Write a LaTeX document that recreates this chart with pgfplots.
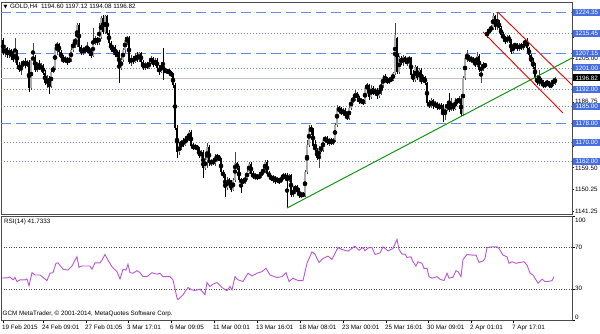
\documentclass[border=0pt]{standalone}
\usepackage{fontspec}
\setmainfont{Liberation Sans}
\newfontfamily\dejavu{DejaVu Sans}
\usepackage{pgfplots}
\usepackage{pgfplotstable}
\pgfplotsset{compat=1.18}
\definecolor{lvl}{RGB}{100,140,230}
\definecolor{lblbox}{RGB}{70,110,225}
\definecolor{bullbody}{RGB}{172,172,172}
\definecolor{bullwick}{RGB}{70,70,70}
\definecolor{trendgreen}{RGB}{20,150,20}
\definecolor{chanred}{RGB}{235,0,0}
\definecolor{rsicol}{RGB}{185,85,215}
\definecolor{curline}{RGB}{195,195,195}
\newcommand\mtfont{\fontsize{6.3}{7.5}\selectfont}

\pgfplotstableread{
x o h l c
3 1212.7 1213.5 1206.4 1207.2
5 1207.2 1210.6 1205.6 1209.3
7 1209.3 1209.7 1205.1 1206.4
9 1206.4 1209.3 1205.1 1208.5
11 1208.5 1208.9 1204.3 1206.4
13 1206.4 1208.5 1203.5 1204.3
15 1204.3 1213.5 1203.1 1207.7
17 1207.7 1208.5 1201.8 1202.2
19 1202.2 1203.5 1199.3 1200.1
21 1200.1 1203.5 1198.0 1202.6
23 1202.6 1204.3 1201.4 1203.5
25 1203.5 1205.1 1201.0 1202.2
27 1202.2 1204.3 1201.4 1203.5
29 1203.5 1204.3 1191.0 1192.6
31 1192.6 1205.1 1191.8 1204.3
33 1204.3 1211.4 1203.5 1205.6
35 1205.6 1206.4 1199.3 1200.1
37 1200.1 1203.5 1199.3 1201.8
39 1201.8 1204.3 1200.1 1201.0
41 1201.0 1203.1 1199.3 1201.8
43 1201.8 1202.6 1198.0 1198.9
45 1198.9 1200.1 1193.9 1194.7
47 1194.7 1198.0 1192.6 1196.8
49 1196.8 1197.6 1190.1 1193.5
51 1193.5 1200.1 1192.6 1199.3
53 1199.3 1201.8 1198.9 1201.0
55 1201.0 1210.6 1200.1 1209.7
57 1209.7 1211.8 1206.4 1211.0
59 1211.0 1211.4 1206.8 1207.7
61 1207.7 1208.5 1204.3 1205.1
63 1205.1 1206.4 1203.1 1203.5
65 1203.5 1206.0 1203.1 1205.1
67 1205.1 1205.6 1202.2 1203.5
69 1203.5 1205.6 1203.1 1204.7
71 1204.7 1209.3 1203.5 1208.5
73 1208.5 1212.7 1207.7 1211.8
75 1211.8 1213.5 1209.3 1212.7
77 1212.7 1219.8 1209.7 1218.9
79 1218.9 1219.8 1208.9 1209.7
81 1209.7 1210.6 1206.4 1207.2
83 1207.2 1209.7 1206.4 1208.9
85 1208.9 1210.2 1207.2 1208.1
87 1208.1 1211.8 1207.2 1209.3
89 1209.3 1209.7 1206.0 1207.7
91 1207.7 1209.3 1205.1 1206.0
93 1206.0 1217.7 1205.6 1211.8
95 1211.8 1214.3 1210.6 1213.5
97 1213.5 1213.9 1210.6 1211.4
99 1211.4 1219.8 1210.6 1213.9
101 1213.9 1222.7 1213.1 1221.8
103 1221.8 1223.1 1215.2 1216.0
105 1216.0 1223.1 1215.2 1222.7
107 1222.7 1223.1 1214.7 1215.6
109 1215.6 1216.8 1210.6 1211.4
111 1211.4 1212.2 1207.7 1208.5
113 1208.5 1210.6 1206.4 1209.7
115 1209.7 1210.6 1205.6 1206.4
117 1206.4 1208.5 1204.3 1207.7
119 1207.7 1208.5 1194.7 1201.0
121 1201.0 1205.6 1200.1 1204.3
123 1204.3 1209.3 1203.5 1208.5
125 1208.5 1213.9 1207.2 1212.7
127 1212.7 1214.3 1210.6 1213.5
129 1213.5 1214.3 1202.6 1203.5
131 1203.5 1206.4 1201.8 1205.1
133 1205.1 1206.0 1202.6 1203.5
135 1203.5 1207.2 1203.1 1206.0
137 1206.0 1207.7 1203.5 1204.3
139 1204.3 1207.7 1203.5 1207.2
141 1207.2 1207.7 1202.6 1203.5
143 1203.5 1204.3 1200.1 1201.0
145 1201.0 1203.5 1200.1 1202.6
147 1202.6 1203.5 1200.6 1201.0
149 1201.0 1204.3 1200.6 1203.5
151 1203.5 1206.0 1202.6 1205.1
153 1205.1 1205.6 1201.4 1202.2
155 1202.2 1205.1 1201.8 1204.3
157 1204.3 1205.1 1200.6 1201.0
159 1201.0 1202.2 1198.0 1199.3
161 1199.3 1203.5 1198.9 1202.2
163 1202.2 1209.3 1196.0 1200.1
165 1200.1 1201.0 1198.9 1199.3
167 1199.3 1200.6 1198.5 1200.1
169 1200.1 1200.6 1198.0 1198.9
171 1198.9 1199.7 1197.2 1198.0
173 1198.0 1198.9 1192.6 1193.9
175 1193.9 1194.7 1175.1 1175.9
177 1175.9 1177.2 1163.4 1165.9
179 1165.9 1169.7 1164.7 1168.4
181 1168.4 1170.9 1166.7 1170.5
183 1170.5 1171.8 1168.0 1168.8
185 1168.8 1172.6 1168.4 1171.8
187 1171.8 1173.4 1170.1 1170.9
189 1170.9 1175.1 1170.5 1174.3
191 1174.3 1175.1 1167.6 1168.4
193 1168.4 1169.7 1166.7 1167.6
195 1167.6 1169.2 1166.7 1168.4
197 1168.4 1168.8 1166.3 1167.2
199 1167.2 1168.0 1163.4 1164.2
201 1164.2 1166.7 1163.4 1165.9
203 1165.9 1166.7 1155.0 1159.2
205 1159.2 1163.8 1158.4 1162.6
207 1162.6 1169.7 1159.2 1168.0
209 1168.0 1168.8 1160.1 1161.3
211 1161.3 1163.0 1160.1 1162.1
213 1162.1 1163.0 1160.5 1161.3
215 1161.3 1165.1 1160.1 1164.2
217 1164.2 1165.1 1162.6 1163.4
219 1163.4 1164.7 1162.1 1162.6
221 1162.6 1163.4 1156.7 1157.6
223 1157.6 1158.4 1155.0 1155.9
225 1155.9 1156.7 1147.1 1150.9
227 1150.9 1155.5 1150.0 1154.2
229 1154.2 1155.0 1151.7 1153.0
231 1153.0 1154.2 1149.2 1150.0
233 1150.0 1155.0 1149.6 1154.2
235 1154.2 1165.9 1153.4 1161.3
237 1161.3 1161.7 1158.4 1159.2
239 1159.2 1160.1 1153.4 1154.2
241 1154.2 1155.0 1148.8 1153.4
243 1153.4 1154.6 1152.5 1153.8
245 1153.8 1155.9 1152.5 1155.0
247 1155.0 1158.4 1154.2 1157.6
249 1157.6 1161.7 1156.7 1160.9
251 1160.9 1161.7 1155.9 1156.7
253 1156.7 1158.0 1154.6 1155.5
255 1155.5 1157.1 1154.2 1156.3
257 1156.3 1156.7 1154.2 1155.0
259 1155.0 1156.7 1154.6 1155.9
261 1155.9 1158.4 1155.0 1157.6
263 1157.6 1159.2 1156.3 1158.4
265 1158.4 1162.6 1157.1 1161.7
267 1161.7 1162.6 1155.9 1156.7
269 1156.7 1158.0 1155.0 1155.9
271 1155.9 1156.3 1153.8 1154.6
273 1154.6 1156.3 1153.0 1155.5
275 1155.5 1155.9 1152.5 1153.8
277 1153.8 1155.5 1153.0 1154.6
279 1154.6 1155.0 1152.5 1153.4
281 1153.4 1155.9 1153.0 1155.0
283 1155.0 1157.1 1154.2 1156.3
285 1156.3 1157.1 1154.2 1155.0
287 1155.0 1157.1 1142.5 1154.2
289 1154.2 1156.7 1153.4 1156.3
291 1156.3 1156.7 1147.1 1148.0
293 1148.0 1150.9 1147.1 1150.0
295 1150.0 1152.1 1148.4 1151.7
297 1151.7 1152.1 1148.4 1149.2
299 1149.2 1150.9 1146.7 1147.5
301 1147.5 1149.2 1146.7 1148.4
303 1148.4 1149.2 1147.1 1147.5
305 1147.5 1158.4 1147.1 1157.6
307 1157.6 1170.9 1156.7 1168.8
309 1168.8 1177.2 1168.0 1175.9
311 1175.9 1177.2 1173.0 1175.1
313 1175.1 1175.9 1167.6 1168.4
315 1168.4 1170.9 1165.9 1166.7
317 1166.7 1167.6 1162.6 1163.4
319 1163.4 1168.4 1159.2 1167.6
321 1167.6 1168.8 1165.9 1166.7
323 1166.7 1172.2 1165.9 1170.9
325 1170.9 1172.6 1169.7 1171.8
327 1171.8 1172.6 1168.8 1169.7
329 1169.7 1171.8 1168.4 1170.9
331 1170.9 1171.8 1168.8 1169.7
333 1169.7 1171.8 1168.8 1170.9
335 1170.9 1178.0 1170.1 1177.2
337 1177.2 1185.5 1176.3 1184.3
339 1184.3 1185.1 1182.2 1183.0
341 1183.0 1184.7 1181.4 1182.2
343 1182.2 1184.3 1180.9 1183.4
345 1183.4 1184.3 1180.1 1180.9
347 1180.9 1182.6 1179.3 1180.1
349 1180.1 1185.1 1179.3 1184.3
351 1184.3 1188.4 1183.4 1187.6
353 1187.6 1188.9 1186.4 1188.0
355 1188.0 1191.8 1187.2 1190.5
357 1190.5 1191.0 1187.6 1188.4
359 1188.4 1189.3 1185.9 1186.8
361 1186.8 1188.4 1185.9 1187.6
363 1187.6 1188.0 1185.5 1186.4
365 1186.4 1193.5 1185.9 1192.6
367 1192.6 1194.7 1191.0 1193.9
369 1193.9 1194.3 1187.6 1188.9
371 1188.9 1193.9 1188.0 1192.6
373 1192.6 1193.5 1189.7 1190.5
375 1190.5 1192.6 1189.3 1191.8
377 1191.8 1192.6 1188.0 1189.3
379 1189.3 1193.5 1188.4 1192.6
381 1192.6 1194.7 1189.7 1193.9
383 1193.9 1198.0 1192.6 1197.2
385 1197.2 1198.5 1195.1 1196.0
387 1196.0 1197.2 1194.3 1195.1
389 1195.1 1197.2 1194.3 1196.4
391 1196.4 1197.2 1195.1 1196.0
393 1196.0 1199.3 1195.5 1198.9
395 1198.9 1219.8 1198.0 1214.7
397 1213.5 1213.9 1198.5 1199.3
399 1199.3 1206.0 1198.5 1205.1
401 1205.1 1206.0 1202.2 1203.1
403 1203.1 1206.4 1201.8 1205.6
405 1205.6 1206.0 1202.6 1203.5
407 1203.5 1205.1 1201.8 1204.3
409 1204.3 1206.0 1202.2 1205.1
411 1205.1 1205.6 1197.2 1198.0
413 1198.0 1200.1 1195.1 1196.0
415 1196.0 1202.2 1195.1 1201.4
417 1201.4 1201.8 1196.0 1196.8
419 1196.8 1201.0 1195.1 1200.1
421 1200.1 1201.0 1194.3 1195.1
423 1195.1 1198.0 1194.7 1197.2
425 1197.2 1197.6 1193.9 1194.7
427 1194.7 1195.1 1185.5 1186.4
429 1186.4 1187.6 1184.3 1185.1
431 1185.1 1188.4 1184.3 1187.6
433 1187.6 1188.0 1183.9 1185.1
435 1185.1 1187.2 1184.3 1186.4
437 1186.4 1186.8 1183.4 1184.3
439 1184.3 1186.4 1183.4 1185.5
441 1185.5 1186.4 1183.0 1183.9
443 1183.9 1185.9 1178.4 1181.4
445 1181.4 1185.1 1179.3 1184.3
447 1184.3 1186.8 1183.0 1185.9
449 1185.9 1190.5 1182.6 1183.4
451 1183.4 1188.4 1183.0 1185.5
453 1185.5 1186.4 1183.0 1183.9
455 1183.9 1188.4 1183.4 1187.6
457 1187.6 1188.4 1185.9 1186.8
459 1186.8 1189.3 1185.9 1187.6
461 1187.6 1188.4 1180.9 1181.8
463 1181.8 1197.6 1180.9 1196.8
465 1196.8 1206.0 1196.0 1205.1
467 1205.1 1208.5 1203.5 1205.6
469 1205.6 1206.4 1203.5 1204.3
471 1204.3 1206.0 1203.1 1205.1
473 1205.1 1205.6 1202.6 1203.5
475 1203.5 1205.1 1201.4 1202.2
477 1202.2 1207.7 1201.4 1206.0
479 1206.0 1206.8 1199.3 1200.1
481 1200.1 1201.8 1194.7 1201.0
483 1201.0 1203.5 1199.7 1202.6
485 1202.6 1203.1 1201.0 1201.8
487 1214.3 1216.8 1213.5 1216.0
489 1216.0 1217.7 1215.2 1216.8
491 1216.8 1218.9 1216.0 1218.1
493 1217.7 1223.9 1216.8 1222.7
495 1222.7 1223.1 1216.8 1218.1
497 1218.1 1224.35 1216.8 1220.2
499 1220.2 1221.0 1216.8 1217.7
501 1217.7 1218.5 1213.9 1214.7
503 1214.7 1216.0 1212.7 1213.5
505 1213.5 1214.3 1211.0 1211.8
507 1211.8 1214.7 1211.4 1213.9
509 1213.9 1214.7 1211.4 1212.7
511 1212.7 1213.1 1206.8 1207.7
513 1207.7 1211.0 1207.2 1210.2
515 1210.2 1211.4 1208.9 1211.0
517 1211.0 1211.4 1208.1 1208.9
519 1208.9 1211.4 1208.1 1210.6
521 1210.6 1211.4 1208.5 1209.3
523 1209.3 1211.8 1208.5 1211.0
525 1211.0 1213.1 1210.2 1212.2
527 1212.2 1213.5 1208.1 1209.3
529 1209.3 1209.7 1205.6 1206.4
531 1206.4 1206.8 1202.2 1203.5
533 1203.5 1205.1 1200.6 1201.4
535 1201.4 1203.1 1196.0 1196.8
537 1196.8 1198.0 1193.9 1194.7
539 1194.7 1200.1 1193.5 1196.0
541 1196.0 1196.8 1193.9 1194.7
543 1194.7 1196.0 1192.6 1193.5
545 1193.5 1195.1 1192.6 1194.7
547 1194.7 1196.0 1193.5 1195.1
549 1195.1 1195.5 1192.6 1193.5
551 1193.5 1194.7 1192.6 1194.3
553 1194.3 1196.8 1193.5 1196.0
555 1194.60 1197.12 1194.08 1196.82
}\candles

\pgfplotstableread{
x rsi
2 40.4
7 40.5
10 41.4
13 38.6
15 40.8
17 37.0
20 38.6
25 38.6
27 39.5
29 32.9
32 45.5
35 43.3
40 43.3
47 37.9
50 45.0
53 45.5
56 54.5
58 55.0
63 48.8
68 48.0
72 51.9
75 57.6
77 60.8
79 50.7
82 51.9
90 51.9
92 48.8
95 55.0
100 55.0
102 57.6
105 63.0
108 57.6
112 51.2
117 46.5
120 39.5
123 48.8
126 48.0
128 53.5
130 45.5
133 45.0
137 47.4
140 45.5
143 41.7
147 41.7
152 45.5
157 44.0
160 45.0
163 41.7
170 41.7
173 38.6
177 21.1
178 19.5
183 24.3
188 31.2
192 29.0
195 28.4
200 29.7
205 24.3
207 36.0
210 32.2
213 34.5
217 36.0
222 31.2
227 28.1
230 32.2
232 29.0
235 41.7
238 38.6
243 37.0
248 45.0
252 42.4
257 45.0
262 46.5
266 49.7
270 43.3
277 40.8
282 41.7
286 45.5
289 37.0
293 40.2
298 37.9
303 37.9
307 54.5
312 65.5
315 63.3
319 55.4
323 59.2
328 61.4
332 58.3
335 64.0
338 69.7
342 67.8
348 66.2
355 71.0
359 67.1
363 69.7
365 66.5
368 69.3
372 69.7
375 63.0
380 64.6
383 70.3
388 66.5
393 68.7
397 77.6
399 67.8
402 63.3
405 63.3
407 60.2
411 60.8
413 56.0
416 51.9
418 56.0
422 54.5
424 49.7
427 49.7
429 41.7
432 40.2
437 41.7
440 39.2
444 37.9
447 45.0
449 40.2
453 41.1
456 47.4
458 46.5
461 41.7
463 58.3
467 63.0
472 62.4
476 62.4
479 55.4
483 56.7
485 59.2
487 69.7
492 70.3
497 70.3
499 68.7
503 62.4
507 60.8
509 54.5
512 56.0
516 54.5
520 55.4
524 56.0
527 52.9
530 45.0
533 43.3
537 37.0
538 35.4
542 39.2
545 37.0
548 37.0
552 37.9
554 41.7333
}\rsidata

\begin{document}
\begin{tikzpicture}[x=1pt,y=1pt,
  plainlbl/.style={font=\mtfont, anchor=west, inner sep=0pt, xshift=3pt, text=black},
  boxlbl/.style={font=\mtfont, anchor=west, fill=lblbox, text=white, inner xsep=1.5pt, inner ysep=0.6pt, minimum width=27pt, minimum height=7pt, xshift=1pt},
  curlbl/.style={boxlbl, fill=black},
  longdash/.style={lvl, line width=0.8pt, dash pattern=on 10pt off 5pt},
  dotline/.style={lvl, line width=0.8pt, dash pattern=on 1pt off 2pt}]
\useasboundingbox (0,0) rectangle (600,333);

% ---------------- main price panel ----------------
\begin{axis}[
  at={(1pt,331pt)}, anchor=north west,
  scale only axis, width=571pt, height=212pt,
  xmin=1, xmax=572, ymin=1140.02, ymax=1228.53,
  xtick=\empty,
  ytick={1141.25,1150.25,1159.50,1168.50,1177.75,1186.75,1196.00,1205.00,1214.00,1223.25},
  yticklabels={},
  ytick pos=right, tick align=outside, major tick length=2pt,
  tick style={black, line width=0.5pt},
  axis line style={black!70, line width=0.7pt},
  clip=false,
  unbounded coords=discard]

% levels
\addplot[longdash, forget plot] coordinates {(1,1224.35) (572,1224.35)};
\addplot[dotline, forget plot] coordinates {(1,1215.45) (572,1215.45)};
\addplot[longdash, forget plot] coordinates {(1,1207.15) (572,1207.15)};
\addplot[dotline, forget plot] coordinates {(1,1201.00) (572,1201.00)};
\addplot[curline, line width=0.7pt, forget plot] coordinates {(1,1196.82) (572,1196.82)};
\addplot[dotline, forget plot] coordinates {(1,1192.00) (572,1192.00)};
\addplot[dotline, forget plot] coordinates {(1,1185.00) (572,1185.00)};
\addplot[longdash, forget plot] coordinates {(1,1178.00) (572,1178.00)};
\addplot[dotline, forget plot] coordinates {(1,1170.00) (572,1170.00)};
\addplot[dotline, forget plot] coordinates {(1,1162.00) (572,1162.00)};

% bull candles (close > open): grey body, dark wick
\addplot[forget plot, only marks, mark=none,
  error bars/.cd, y dir=both, y explicit, error mark=none,
  error bar style={line width=0.5pt, draw=bullwick}]
  table[x=x, y expr={\thisrow{c}>\thisrow{o} ? 0.5*(\thisrow{h}+\thisrow{l}) : nan},
        y error expr={0.5*(\thisrow{h}-\thisrow{l})}] \candles;
\addplot[forget plot, only marks, mark=none,
  error bars/.cd, y dir=both, y explicit, error mark=none,
  error bar style={line width=1.6pt, draw=bullbody}]
  table[x=x, y expr={\thisrow{c}>\thisrow{o} ? 0.5*(\thisrow{o}+\thisrow{c}) : nan},
        y error expr={0.5*abs(\thisrow{c}-\thisrow{o})}] \candles;
% bear candles (close < open): black
\addplot[forget plot, only marks, mark=none,
  error bars/.cd, y dir=both, y explicit, error mark=none,
  error bar style={line width=0.5pt, draw=black}]
  table[x=x, y expr={\thisrow{c}<\thisrow{o} ? 0.5*(\thisrow{h}+\thisrow{l}) : nan},
        y error expr={0.5*(\thisrow{h}-\thisrow{l})}] \candles;
\addplot[forget plot, only marks, mark=none,
  error bars/.cd, y dir=both, y explicit, error mark=none,
  error bar style={line width=1.6pt, draw=black}]
  table[x=x, y expr={\thisrow{c}<\thisrow{o} ? 0.5*(\thisrow{o}+\thisrow{c}) : nan},
        y error expr={0.5*abs(\thisrow{c}-\thisrow{o})}] \candles;

% trend lines
\addplot[trendgreen, line width=1pt, forget plot] coordinates {(287,1142.5) (572,1205.15)};
\addplot[chanred, line width=0.9pt, forget plot] coordinates {(498,1224.2) (572,1193.9)};
\addplot[chanred, line width=0.9pt, forget plot] coordinates {(483,1216.0) (563,1182.2)};

% plain price-scale labels (those not hidden behind level boxes)
\node[plainlbl] at (axis cs:572,1141.25) {1141.25};
\node[plainlbl] at (axis cs:572,1150.25) {1150.25};
\node[plainlbl] at ([yshift=-1pt]axis cs:572,1159.50) {1159.50};
\node[plainlbl] at ([yshift=1pt]axis cs:572,1186.75) {1186.75};
\node[plainlbl] at (axis cs:572,1205.00) {1205.00};
% boxed level labels
\node[boxlbl] at (axis cs:572,1224.35) {1224.35};
\node[boxlbl] at (axis cs:572,1215.45) {1215.45};
\node[boxlbl] at (axis cs:572,1207.15) {1207.15};
\node[boxlbl] at (axis cs:572,1201.00) {1201.00};
\node[boxlbl] at (axis cs:572,1192.00) {1192.00};
\node[boxlbl] at (axis cs:572,1185.00) {1185.00};
\node[boxlbl] at (axis cs:572,1178.00) {1178.00};
\node[boxlbl] at (axis cs:572,1170.00) {1170.00};
\node[boxlbl] at (axis cs:572,1162.00) {1162.00};
\node[curlbl] at (axis cs:572,1196.82) {1196.82};

% header
\node[font=\mtfont, anchor=west, inner sep=0pt] at ([xshift=2.5pt,yshift=-5pt]rel axis cs:0,1)
  {{\dejavu\fontsize{5}{6}\selectfont ▼}\hspace{2.5pt}GOLD,H4\hspace{3.5pt}1194.60 1197.12 1194.08 1196.82};
\end{axis}

% ---------------- RSI panel ----------------
\begin{axis}[
  at={(1pt,117pt)}, anchor=north west,
  scale only axis, width=571pt, height=104pt,
  xmin=1, xmax=572, ymin=0, ymax=100,
  xtick={3,43,86,128,171,214,257,300,343,386,428,471,513},
  xticklabels={19 Feb 2015,24 Feb 09:01,27 Feb 01:05,3 Mar 17:01,6 Mar 09:05,11 Mar 00:01,13 Mar 16:01,18 Mar 08:01,23 Mar 00:01,25 Mar 16:01,30 Mar 09:01,2 Apr 01:01,7 Apr 17:01},
  xtick pos=bottom,
  xticklabel style={font=\mtfont, anchor=north west, inner sep=0pt, xshift=-1pt, yshift=-1.5pt},
  ytick={0,30,70,100}, yticklabels={},
  ytick pos=right, tick align=outside, major tick length=3pt,
  tick style={black, line width=0.5pt},
  axis line style={black!70, line width=0.7pt},
  clip=false]
\addplot[black!70, line width=0.6pt, dash pattern=on 1pt off 1.5pt, forget plot] coordinates {(1,70) (572,70)};
\addplot[black!70, line width=0.6pt, dash pattern=on 1pt off 1.5pt, forget plot] coordinates {(1,30) (572,30)};
\addplot[rsicol, line width=0.9pt, forget plot] table[x=x, y=rsi] \rsidata;

\node[font=\mtfont, anchor=north west, inner sep=0pt] at ([xshift=3pt,yshift=-2.5pt]rel axis cs:0,1) {RSI(14) 41.7333};
\node[font=\mtfont, anchor=south west, inner sep=0pt] at ([xshift=1.5pt,yshift=3pt]rel axis cs:0,0) {GCM MetaTrader, © 2001-2014, MetaQuotes Software Corp.};
\node[plainlbl] at ([yshift=-4pt]axis cs:572,100) {100};
\node[plainlbl] at (axis cs:572,70) {70};
\node[plainlbl] at (axis cs:572,30) {30};
\node[plainlbl] at ([yshift=3pt]axis cs:572,0) {0};
\end{axis}
\end{tikzpicture}
\end{document}
